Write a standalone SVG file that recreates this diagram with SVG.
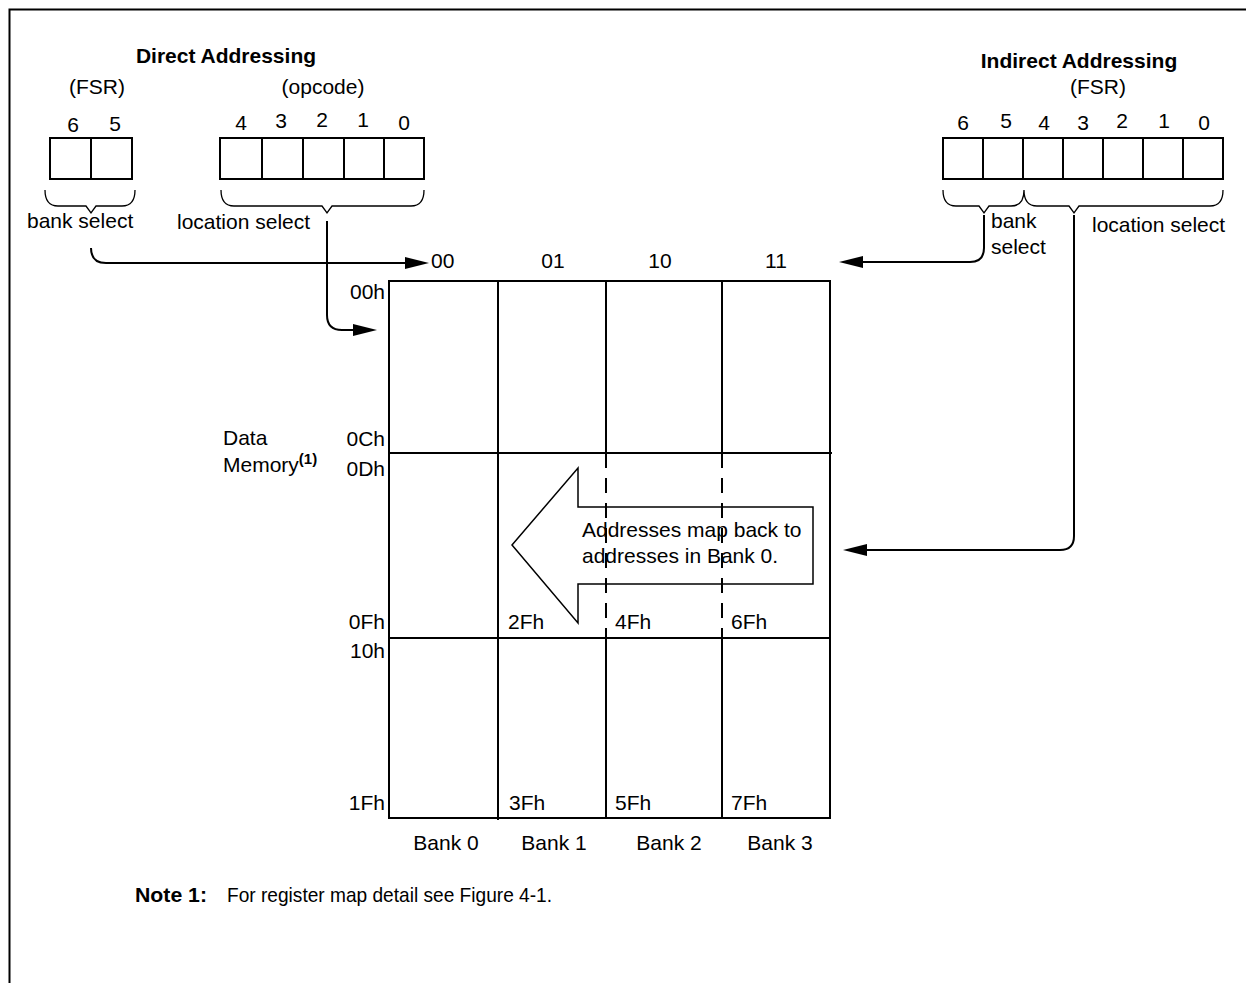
<svg xmlns="http://www.w3.org/2000/svg" width="1246" height="983" viewBox="0 0 1246 983">
<style>
text{font-family:"Liberation Sans",Arial,sans-serif;font-size:21px;fill:#000}
.b{font-weight:bold}
.m{text-anchor:middle}
.e{text-anchor:end}
.box{fill:none;stroke:#000;stroke-width:2}
.ln{fill:none;stroke:#000;stroke-width:2}
.br{fill:none;stroke:#000;stroke-width:1.3}
.dash{fill:none;stroke:#000;stroke-width:2;stroke-dasharray:15 10}
.ah{fill:#000;stroke:none}
</style>
<rect width="1246" height="983" fill="#fff"/>
<path d="M9.5,983 V9.5 H1246" class="ln" stroke-width="2.5"/>

<g id="direct-addressing">
<text x="226" y="63" class="b m">Direct Addressing</text>
<text x="97" y="94" class="m">(FSR)</text>
<text x="323" y="94" class="m">(opcode)</text>
</g>

<g id="fsr-direct">
<rect x="50" y="138" width="82" height="41" class="box"/>
<line x1="91" y1="138" x2="91" y2="179" class="box"/>
<text x="73" y="132" class="m">6</text>
<text x="115" y="131" class="m">5</text>
<path d="M45,190 Q45,206 58,206 H86 L91,213 L96,206 H122 Q135,206 135,190" class="br"/>
<text x="27" y="228">bank select</text>
</g>

<g id="opcode">
<rect x="220" y="138" width="204" height="41" class="box"/>
<line x1="262" y1="138" x2="262" y2="179" class="box"/>
<line x1="303" y1="138" x2="303" y2="179" class="box"/>
<line x1="344" y1="138" x2="344" y2="179" class="box"/>
<line x1="384" y1="138" x2="384" y2="179" class="box"/>
<text x="241" y="130" class="m">4</text>
<text x="281" y="128" class="m">3</text>
<text x="322" y="127" class="m">2</text>
<text x="363" y="127" class="m">1</text>
<text x="404" y="130" class="m">0</text>
<path d="M221,190 Q221,206 234,206 H322 L327,213 L332,206 H411 Q424,206 424,190" class="br"/>
<text x="177" y="229">location select</text>
</g>

<g id="indirect-addressing">
<text x="1079" y="68" class="b m">Indirect Addressing</text>
<text x="1098" y="94" class="m">(FSR)</text>
<rect x="943" y="138" width="280" height="41" class="box"/>
<line x1="983" y1="138" x2="983" y2="179" class="box"/>
<line x1="1023" y1="138" x2="1023" y2="179" class="box"/>
<line x1="1063" y1="138" x2="1063" y2="179" class="box"/>
<line x1="1103" y1="138" x2="1103" y2="179" class="box"/>
<line x1="1143" y1="138" x2="1143" y2="179" class="box"/>
<line x1="1183" y1="138" x2="1183" y2="179" class="box"/>
<text x="963" y="130" class="m">6</text>
<text x="1006" y="128" class="m">5</text>
<text x="1044" y="130" class="m">4</text>
<text x="1083" y="130" class="m">3</text>
<text x="1122" y="128" class="m">2</text>
<text x="1164" y="128" class="m">1</text>
<text x="1204" y="130" class="m">0</text>
<path d="M943,190 Q943,206 956,206 H979 L984,213 L989,206 H1011 Q1024,206 1024,190 Q1024,206 1037,206 H1069 L1074,213 L1079,206 H1210 Q1223,206 1223,190" class="br"/>
<text x="991" y="228">bank</text>
<text x="991" y="254">select</text>
<text x="1092" y="232">location select</text>
</g>

<g id="data-memory">
<rect x="389" y="281" width="441" height="537" class="box"/>
<line x1="498" y1="281" x2="498" y2="820" class="box"/>
<line x1="606" y1="281" x2="606" y2="453" class="box"/>
<line x1="722" y1="281" x2="722" y2="453" class="box"/>
<line x1="606" y1="453" x2="606" y2="638" class="dash"/>
<line x1="722" y1="453" x2="722" y2="638" class="dash"/>
<line x1="606" y1="638" x2="606" y2="818" class="box"/>
<line x1="722" y1="638" x2="722" y2="818" class="box"/>
<line x1="389" y1="453" x2="832" y2="453" class="box"/>
<line x1="389" y1="638" x2="830" y2="638" class="box"/>
<text x="431" y="268">00</text>
<text x="553" y="268" class="m">01</text>
<text x="660" y="268" class="m">10</text>
<text x="776" y="268" class="m">11</text>
<text x="385" y="299" class="e">00h</text>
<text x="385" y="446" class="e">0Ch</text>
<text x="385" y="476" class="e">0Dh</text>
<text x="385" y="629" class="e">0Fh</text>
<text x="385" y="658" class="e">10h</text>
<text x="385" y="810" class="e">1Fh</text>
<text x="508" y="629">2Fh</text>
<text x="615" y="629">4Fh</text>
<text x="731" y="629">6Fh</text>
<text x="509" y="810">3Fh</text>
<text x="615" y="810">5Fh</text>
<text x="731" y="810">7Fh</text>
<text x="446" y="850" class="m">Bank 0</text>
<text x="554" y="850" class="m">Bank 1</text>
<text x="669" y="850" class="m">Bank 2</text>
<text x="780" y="850" class="m">Bank 3</text>
<text x="223" y="445">Data</text>
<text x="223" y="472">Memory<tspan class="b" font-size="15" dy="-8">(1)</tspan></text>
</g>

<g id="map-back-arrow">
<path d="M512,545 L578,468 V507 H813 V584 H578 V623 Z" fill="none" stroke="#000" stroke-width="1.5"/>
<text x="582" y="537">Addresses map back to</text>
<text x="582" y="563">addresses in Bank 0.</text>
</g>

<g id="connectors">
<path d="M91,248 Q91,263 106,263 H406" class="ln"/>
<polygon points="405,257 429,263 405,269" class="ah"/>
<path d="M327,221 V315 Q327,330 342,330 H354" class="ln"/>
<polygon points="353,324 377,330 353,336" class="ah"/>
<path d="M984,215 V248 Q984,262 970,262 H862" class="ln"/>
<polygon points="863,256 839,262 863,268" class="ah"/>
<path d="M1074,215 V536 Q1074,550 1060,550 H866" class="ln"/>
<polygon points="867,544 843,550 867,556" class="ah"/>
</g>

<g id="note">
<text x="135" y="902" class="b" font-size="19" textLength="72" lengthAdjust="spacingAndGlyphs">Note 1:</text>
<text x="227" y="902" font-size="19" textLength="325" lengthAdjust="spacingAndGlyphs">For register map detail see Figure 4-1.</text>
</g>
</svg>
